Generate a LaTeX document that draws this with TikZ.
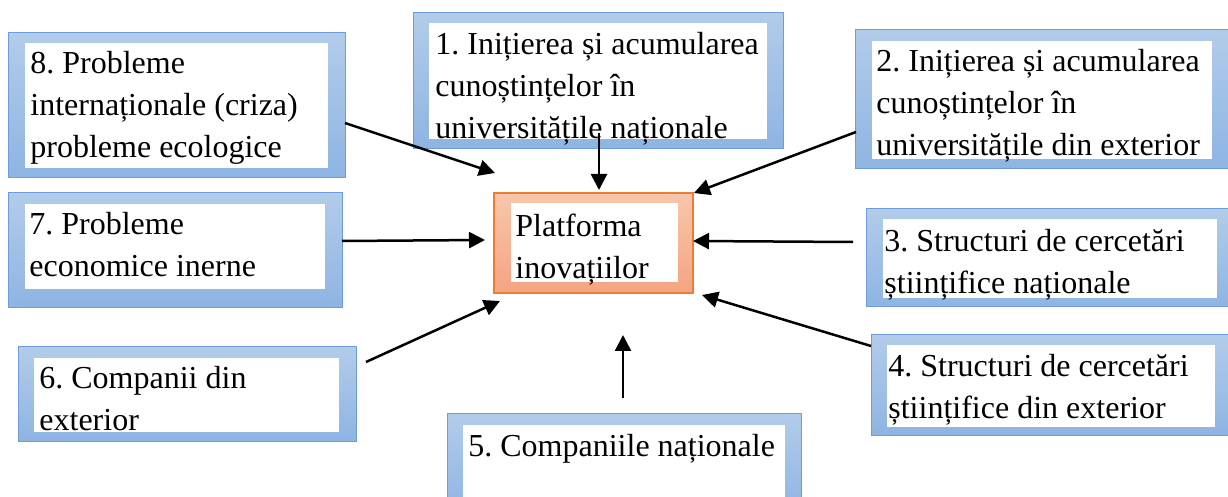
\documentclass[tikz,border=0pt]{standalone}
\usepackage{fontspec}
\setmainfont{Liberation Serif}
\usetikzlibrary{fit,arrows.meta}
\definecolor{bluetop}{HTML}{B2CCEA}
\definecolor{bluebot}{HTML}{8EB4E3}
\definecolor{blueline}{HTML}{6D9DD8}
\definecolor{orangetop}{HTML}{F8C6AC}
\definecolor{orangebot}{HTML}{F4A482}
\definecolor{orangeline}{HTML}{ED7D31}
\tikzset{
  bluebox/.style={rectangle, draw=blueline, line width=0.5pt, top color=bluetop, bottom color=bluebot, inner sep=0pt},
  orangebox/.style={rectangle, draw=orangeline, line width=0.6pt, top color=orangetop, bottom color=orangebot, inner sep=0pt},
  whitebox/.style={rectangle, fill=white, draw=none, inner sep=0pt},
  boxtext/.style={anchor=north west, inner sep=0pt, align=left, font=\fontsize{16}{21}\selectfont\frenchspacing},
  link/.style={line width=1.25pt, -{Triangle[length=8pt,width=8pt]}}
}
\newcommand{\firstline}{\rule{0pt}{11.5pt}}
\frenchspacing
\begin{document}
\begin{tikzpicture}[x=0.5pt,y=-0.5pt]
\useasboundingbox (0,0) rectangle (1228,497);
\clip (0,0) rectangle (1228,497);

% Box 8
\node[bluebox, fit={(8,33)(345,178)}] (b8) {};
\node[whitebox, fit={(25,43)(328,168)}] (w8) {};
\node[boxtext] (t8) at (30,50) {\firstline 8. Probleme\\interna\char"021Bionale (criza)\\probleme ecologice};

% Box 1
\node[bluebox, fit={(413,13)(783,149)}] (b1) {};
\node[whitebox, fit={(429,23)(767,139)}] (w1) {};
\node[boxtext] (t1) at (435,31) {\firstline 1. Ini\char"021Bierea \char"0219i acumularea\\cuno\char"0219tin\char"021Belor în\\universit\u{a}\char"021Bile na\char"021Bionale};

% Box 2
\node[bluebox, fit={(855,30)(1240,169)}] (b2) {};
\node[whitebox, fit={(872,41)(1212,159)}] (w2) {};
\node[boxtext] (t2) at (876,48) {\firstline 2. Ini\char"021Bierea \char"0219i acumularea\\cuno\char"0219tin\char"021Belor în\\universit\u{a}\char"021Bile din exterior};

% Box 7
\node[bluebox, fit={(8,193)(342,308)}] (b7) {};
\node[whitebox, fit={(25,204)(325,289)}] (w7) {};
\node[boxtext] (t7) at (29,211) {\firstline 7. Probleme\\economice inerne};

% Platform
\node[orangebox, fit={(494,193)(693,293)}] (plat) {};
\node[whitebox, fit={(511,203)(678,282)}] (wp) {};
\node[boxtext] (tp) at (515,213) {\firstline Platforma\\inova\char"021Biilor};

% Box 3
\node[bluebox, fit={(866,209)(1240,307)}] (b3) {};
\node[whitebox, fit={(883,219)(1217,298)}] (w3) {};
\node[boxtext] (t3) at (884,228) {\firstline 3. Structuri de cercet\u{a}ri\\\char"0219tiin\char"021Bifice na\char"021Bionale};

% Box 6
\node[bluebox, fit={(18,347)(356,442)}] (b6) {};
\node[whitebox, fit={(34,358)(339,432)}] (w6) {};
\node[boxtext] (t6) at (39,365) {\firstline 6. Companii din\\exterior};

% Box 4
\node[bluebox, fit={(871,335)(1240,436)}] (b4) {};
\node[whitebox, fit={(887,345)(1215,427)}] (w4) {};
\node[boxtext] (t4) at (888,353) {\firstline 4. Structuri de cercet\u{a}ri\\\char"0219tiin\char"021Bifice din exterior};

% Box 5
\node[bluebox, fit={(447,414)(801,515)}] (b5) {};
\node[whitebox, fit={(463,425)(785,505)}] (w5) {};
\node[boxtext] (t5) at (468,433) {\firstline 5. Companiile na\char"021Bionale};

% arrow end points
\coordinate (s8) at (345,123); \coordinate (e8) at (495,173);
\coordinate (s1) at (599,133); \coordinate (e1) at (599,190);
\coordinate (s2) at (856,132); \coordinate (e2) at (694,193);
\coordinate (s7) at (342,241); \coordinate (e7) at (485,240);
\coordinate (s3) at (853,242); \coordinate (e3) at (693,241);
\coordinate (s6) at (366,362); \coordinate (e6) at (500,301);
\coordinate (s4) at (871,346); \coordinate (e4) at (702,295);
\coordinate (s5) at (623,398); \coordinate (e5) at (623,335);

\draw[link] (s8) -- (e8);
\draw[link] (s1) -- (e1);
\draw[link] (s2) -- (e2);
\draw[link] (s7) -- (e7);
\draw[link] (s3) -- (e3);
\draw[link] (s6) -- (e6);
\draw[link] (s4) -- (e4);
\draw[link] (s5) -- (e5);
\end{tikzpicture}
\end{document}
